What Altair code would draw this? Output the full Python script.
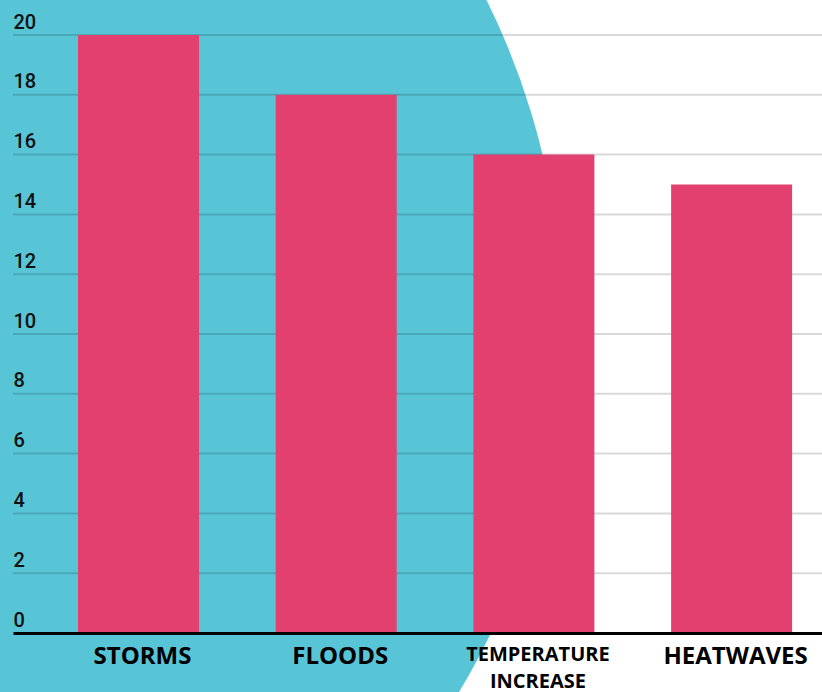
import altair as alt
import pandas as pd

# ---- data ----
categories = ["STORMS", "FLOODS", "TEMPERATURE INCREASE", "HEATWAVES"]
values = [20, 18, 16, 15]
grid_ticks = [2, 4, 6, 8, 10, 12, 14, 16, 18, 20]
y_ticks = [0, 2, 4, 6, 8, 10, 12, 14, 16, 18, 20]

bars_df = pd.DataFrame({"category": categories, "value": values})
grid_df = pd.DataFrame({"value": grid_ticks})
deco_df = pd.DataFrame({"d": [0]})

W, H = 809, 598
TEAL = "#58C5D7"
PINK = "#E2416F"

yscale = alt.Scale(domain=[0, 20], nice=False, zero=True)
y_axis = alt.Axis(
    title=None,
    values=y_ticks,
    labelAlign="left",
    labelBaseline="alphabetic",
    labelOffset=-7,
    labelPadding=0,
    labelFont="Roboto",
    labelFontSize=20,
    labelFontWeight=500,
    labelColor="#111111",
    domain=False,
    ticks=False,
    grid=False,
    labelOverlap=False,
    zindex=2,
)

# decorative background circle
circle = alt.Chart(deco_df).mark_circle(
    color=TEAL, opacity=1, size=2073600
).encode(x=alt.value(-171), y=alt.value(286))

grid = alt.Chart(grid_df).mark_rule(
    color="black", opacity=0.15, strokeWidth=2
).encode(
    y=alt.Y("value:Q", scale=yscale, axis=y_axis),
    x=alt.value(0),
    x2=alt.value(W),
)

bars = alt.Chart(bars_df).mark_bar(color=PINK).encode(
    x=alt.X(
        "category:N",
        sort=categories,
        scale=alt.Scale(paddingInner=0.388, paddingOuter=0.24, align=0.685),
        axis=alt.Axis(
            title=None,
            labelExpr="split(datum.label, ' ')",
            labelFont="Open Sans",
            labelFontWeight="bold",
            labelFontSize={
                "condition": {"test": "datum.value == 'TEMPERATURE INCREASE'", "value": 20},
                "value": 24,
            },
            labelColor="black",
            labelPadding=11,
            labelLineHeight=27,
            labelBaseline="top",
            labelAngle=0,
            labelOffset=4,
            domainColor="black",
            domainWidth=3,
            ticks=False,
            grid=False,
            zindex=2,
        ),
    ),
    y=alt.Y("value:Q", scale=yscale, axis=y_axis),
)

chart = (
    alt.layer(circle, grid, bars)
    .properties(
        width=W,
        height=H,
        autosize=alt.AutoSizeParams(type="none"),
        padding={"left": 13, "top": 35, "right": 0, "bottom": 59},
    )
    .configure(background="white")
    .configure_view(stroke=None)
)

chart.save("out.html", embed_options={"renderer": "svg", "actions": False})
